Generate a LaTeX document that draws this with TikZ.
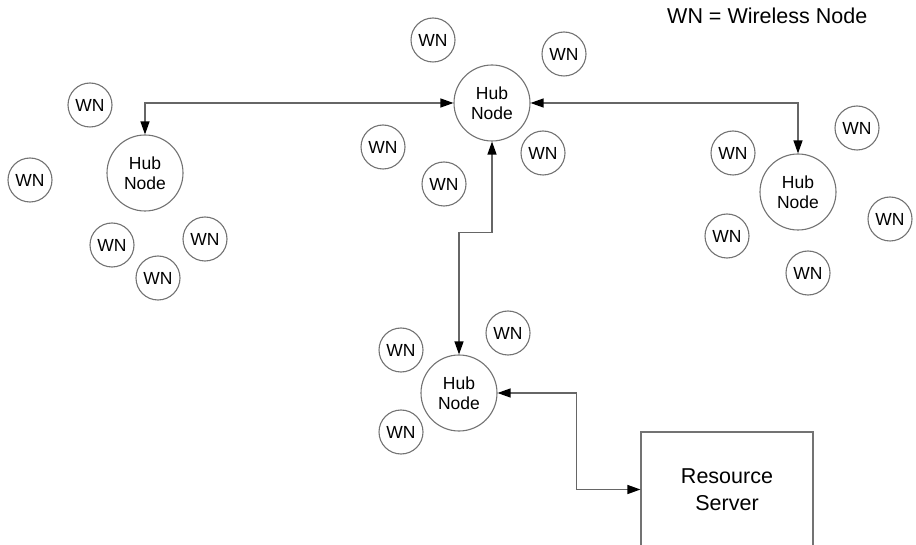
\documentclass[tikz,border=0pt]{standalone}
\usepackage{fontspec}
\setmainfont{Liberation Sans}
\usetikzlibrary{arrows.meta}

\begin{document}
\begin{tikzpicture}[
  x=1pt, y=-1pt,
  wn/.style     = {circle, draw=black!55, line width=1.1pt, inner sep=0pt,
                   minimum size=44pt, font=\fontsize{17.5}{20}\selectfont},
  hub/.style    = {circle, draw=black!55, line width=1.1pt, inner sep=0pt,
                   minimum size=76pt, align=center,
                   font=\fontsize{17.5}{20.5}\selectfont},
  server/.style = {draw=black!55, line width=1.1pt, minimum width=172pt,
                   minimum height=115pt, align=center,
                   font=\fontsize{21.5}{27}\selectfont},
  arr/.style    = {{Triangle[length=13pt,width=9pt,color=black]}-{Triangle[length=13pt,width=9pt,color=black]},
                   draw=black!60, line width=1.2pt}
]
\useasboundingbox (0,0) rectangle (916,545);
\clip (0,0) rectangle (916,545);

% legend
\node[anchor=west, inner sep=0pt, font=\fontsize{21.5}{24}\selectfont] (legend) at (667,16) {WN = Wireless Node};

% hub nodes
\node[hub] (hubL) at (145,173) {Hub\\Node};
\node[hub] (hubT) at (492,103) {Hub\\Node};
\node[hub] (hubR) at (798,192) {Hub\\Node};
\node[hub] (hubB) at (459,393) {Hub\\Node};

% resource server
\node[server] (srv) at (727,489.5) {Resource\\Server};

% wireless nodes, left group
\node[wn] (wnL1) at (90,105)  {WN};
\node[wn] (wnL2) at (30,180)  {WN};
\node[wn] (wnL3) at (112,245) {WN};
\node[wn] (wnL4) at (205,239) {WN};
\node[wn] (wnL5) at (158,278) {WN};

% wireless nodes, top group
\node[wn] (wnT1) at (433,40)  {WN};
\node[wn] (wnT2) at (564,54)  {WN};
\node[wn] (wnT3) at (383,147) {WN};
\node[wn] (wnT4) at (543,153) {WN};
\node[wn] (wnT5) at (444,184) {WN};

% wireless nodes, right group
\node[wn] (wnR1) at (857,128) {WN};
\node[wn] (wnR2) at (733,153) {WN};
\node[wn] (wnR3) at (890,219) {WN};
\node[wn] (wnR4) at (727,236) {WN};
\node[wn] (wnR5) at (808,273) {WN};

% wireless nodes, bottom group
\node[wn] (wnB1) at (508,333) {WN};
\node[wn] (wnB2) at (401,350) {WN};
\node[wn] (wnB3) at (401,432) {WN};

% links
\draw[arr] (hubL.north) |- (hubT.west);
\draw[arr] (hubT.east) -| (hubR.north);
\draw[arr] (hubT.south) -- ++(0,91) -| (hubB.north);
\draw[arr] (hubB.east) -- ++(79,0) |- (srv.west);
\end{tikzpicture}
\end{document}
